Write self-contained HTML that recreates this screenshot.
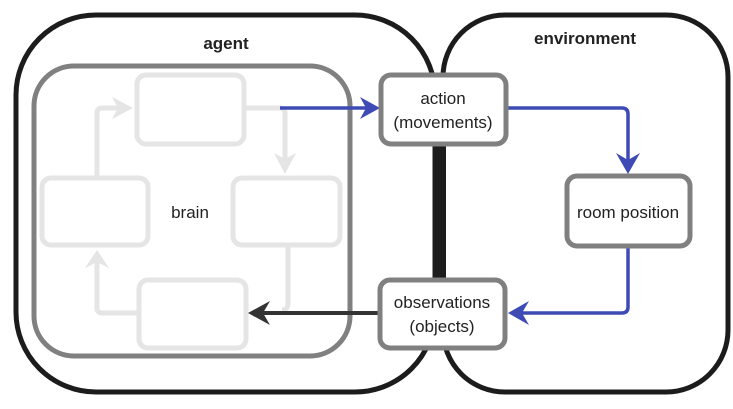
<!DOCTYPE html>
<html><head><meta charset="utf-8"><style>
html,body{margin:0;padding:0;background:#fff;}
svg{display:block;}
text{font-family:"Liberation Sans","DejaVu Sans",sans-serif;fill:#222;}
</style></head><body>
<svg width="733" height="409" viewBox="0 0 733 409" xmlns="http://www.w3.org/2000/svg">
<rect x="16" y="15" width="419" height="377" rx="80" fill="none" stroke="#1c1c1c" stroke-width="5"/>
<rect x="443" y="15" width="285" height="377" rx="62" fill="#fff" stroke="#1c1c1c" stroke-width="5"/>
<rect x="434" y="140" width="12" height="142" fill="#1c1c1c"/>
<text x="226" y="49" font-size="17" font-weight="bold" text-anchor="middle">agent</text>
<text x="585" y="44" font-size="17" font-weight="bold" text-anchor="middle">environment</text>
<rect x="34" y="66" width="316" height="290" rx="40" fill="none" stroke="#808080" stroke-width="5"/>
<g fill="none" stroke="#e5e5e5" stroke-width="5">
<rect x="137" y="75" width="107" height="69" rx="9"/>
<rect x="42" y="178" width="106" height="67" rx="9"/>
<rect x="233" y="178" width="107" height="67" rx="9"/>
<rect x="139" y="280" width="107" height="68" rx="9"/>
<path d="M244 108 H280 Q285 108 285 113 V166"/>
<path d="M288 246 V303 Q288 310 282 310"/>
<path d="M139 313 H102 Q97 313 97 308 V260"/>
<path d="M97 178 V113 Q97 108 102 108 H124"/>
</g>
<g fill="#e5e5e5">
<path d="M274 153 L285 174 L296 153 L285 159 Z"/>
<path d="M85 268 L97 250 L109 268 L97 262 Z"/>
<path d="M112 97 L133 108 L112 119 L118 108 Z"/>
</g>
<text x="190" y="218" font-size="17" text-anchor="middle">brain</text>
<g fill="none" stroke="#3f4bb5" stroke-width="3.5">
<path d="M280 108 H370"/>
<path d="M507 108 H622 Q628 108 628 114 V165"/>
<path d="M628 247 V307 Q628 313 622 313 H518"/>
</g>
<g fill="#3f4bb5">
<path d="M360 97 L380 108 L360 119 L366 108 Z"/>
<path d="M616 153 L628 174 L640 153 L628 160 Z"/>
<path d="M529 301 L508 313 L529 325 L522 313 Z"/>
</g>
<path d="M380 313 H262" stroke="#333" stroke-width="4" fill="none"/>
<path d="M270 301 L248 313 L270 325 L263 313 Z" fill="#333"/>
<g fill="#fff" stroke="#808080" stroke-width="5">
<rect x="381" y="75" width="125" height="69" rx="10"/>
<rect x="380" y="280" width="125" height="68" rx="10"/>
<rect x="567" y="176" width="123" height="70" rx="10"/>
</g>
<g font-size="17" text-anchor="middle">
<text x="443" y="104">action</text>
<text x="443" y="128">(movements)</text>
<text x="442" y="308">observations</text>
<text x="442" y="332">(objects)</text>
<text x="628" y="218">room position</text>
</g>
</svg>
</body></html>
